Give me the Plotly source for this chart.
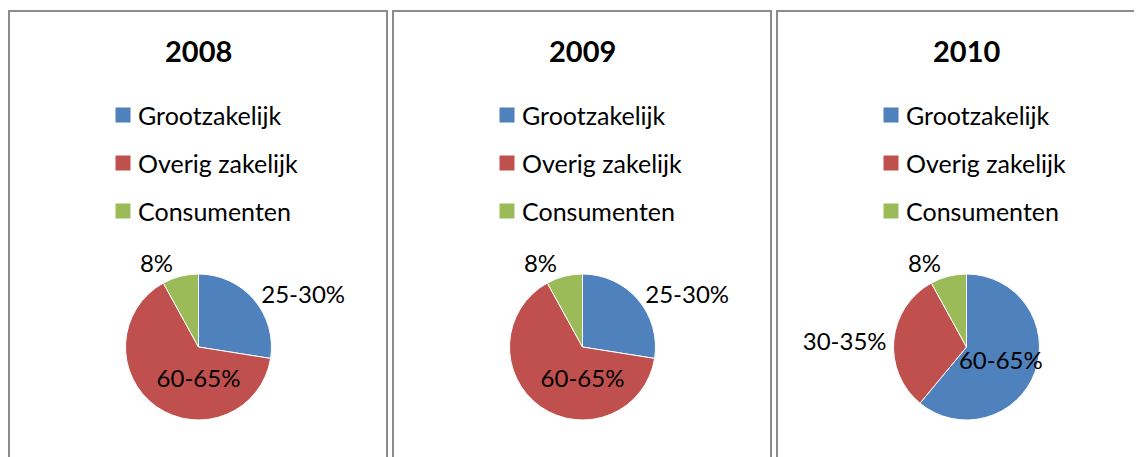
import plotly.graph_objects as go

# data
years = ["2008", "2009", "2010"]
categories = ["Grootzakelijk", "Overig zakelijk", "Consumenten"]
share_2008 = [27.5, 64.5, 8]
share_2009 = [27.5, 64.5, 8]
share_2010 = [61, 31, 8]
labels_2008 = ["25-30%", "60-65%", "8%"]
labels_2009 = ["25-30%", "60-65%", "8%"]
labels_2010 = ["60-65%", "30-35%", "8%"]

COLORS = ["#4F81BD", "#C0504D", "#9BBB59"]
FONT = "Lato, Carlito, Calibri, sans-serif"

# de pagina heeft 8px body-marge; alles in schermpixels min die marge
OFF = 8
W, H = 1142 - OFF, 457 - OFF
PANEL_LEFT = [9, 393, 777]
PANEL_W = 378
PIE_CY, PIE_R = 347, 73


def px(x):
    return (x - OFF) / W


def py(y):
    return 1 - (y - OFF) / H


shares = [share_2008, share_2009, share_2010]
texts = [labels_2008, labels_2009, labels_2010]
# welk label binnen/buiten de taart
positions = [
    ["outside", "inside", "outside"],
    ["outside", "inside", "outside"],
    ["inside", "outside", "outside"],
]

fig = go.Figure()
shapes, annotations = [], []

for i, year in enumerate(years):
    left = PANEL_LEFT[i]
    cx = left + PANEL_W / 2 + 0.5

    fig.add_trace(go.Pie(
        labels=categories,
        values=shares[i],
        text=texts[i],
        textinfo="text",
        textposition=positions[i],
        insidetextorientation="horizontal",
        textfont=dict(family=FONT, size=24, color="black"),
        marker=dict(colors=COLORS, line=dict(color="white", width=1)),
        sort=False,
        direction="clockwise",
        rotation=0,
        showlegend=False,
        hoverinfo="label+text",
        domain=dict(x=[px(cx - PIE_R), px(cx + PIE_R)],
                    y=[py(PIE_CY + PIE_R), py(PIE_CY - PIE_R)]),
    ))

    # kader
    shapes.append(dict(type="rect", xref="paper", yref="paper",
                       x0=px(left), x1=px(left + PANEL_W),
                       y0=-0.1, y1=py(11),
                       line=dict(color="#8C8C8C", width=2),
                       fillcolor="rgba(0,0,0,0)"))

    # titel
    annotations.append(dict(text=f"<b>{year}</b>", xref="paper", yref="paper",
                            x=px(cx), y=py(51), showarrow=False,
                            xanchor="center", yanchor="middle",
                            font=dict(family=FONT, size=29, color="black")))

    # legenda
    for j, cat in enumerate(categories):
        yc = 115 + 48 * j
        shapes.append(dict(type="rect", xref="paper", yref="paper",
                           x0=px(cx - 83), x1=px(cx - 68),
                           y0=py(yc + 7.5), y1=py(yc - 7.5),
                           line=dict(width=0), fillcolor=COLORS[j]))
        annotations.append(dict(text=cat, xref="paper", yref="paper",
                                x=px(cx - 63), y=py(yc), showarrow=False,
                                xanchor="left", yanchor="middle",
                                font=dict(family=FONT, size=25, color="black")))

fig.update_layout(
    width=W, height=H,
    margin=dict(l=0, r=0, t=0, b=0),
    paper_bgcolor="white",
    plot_bgcolor="white",
    shapes=shapes,
    annotations=annotations,
    uniformtext=dict(minsize=24, mode="show"),
)

fig.write_html("out.html")
